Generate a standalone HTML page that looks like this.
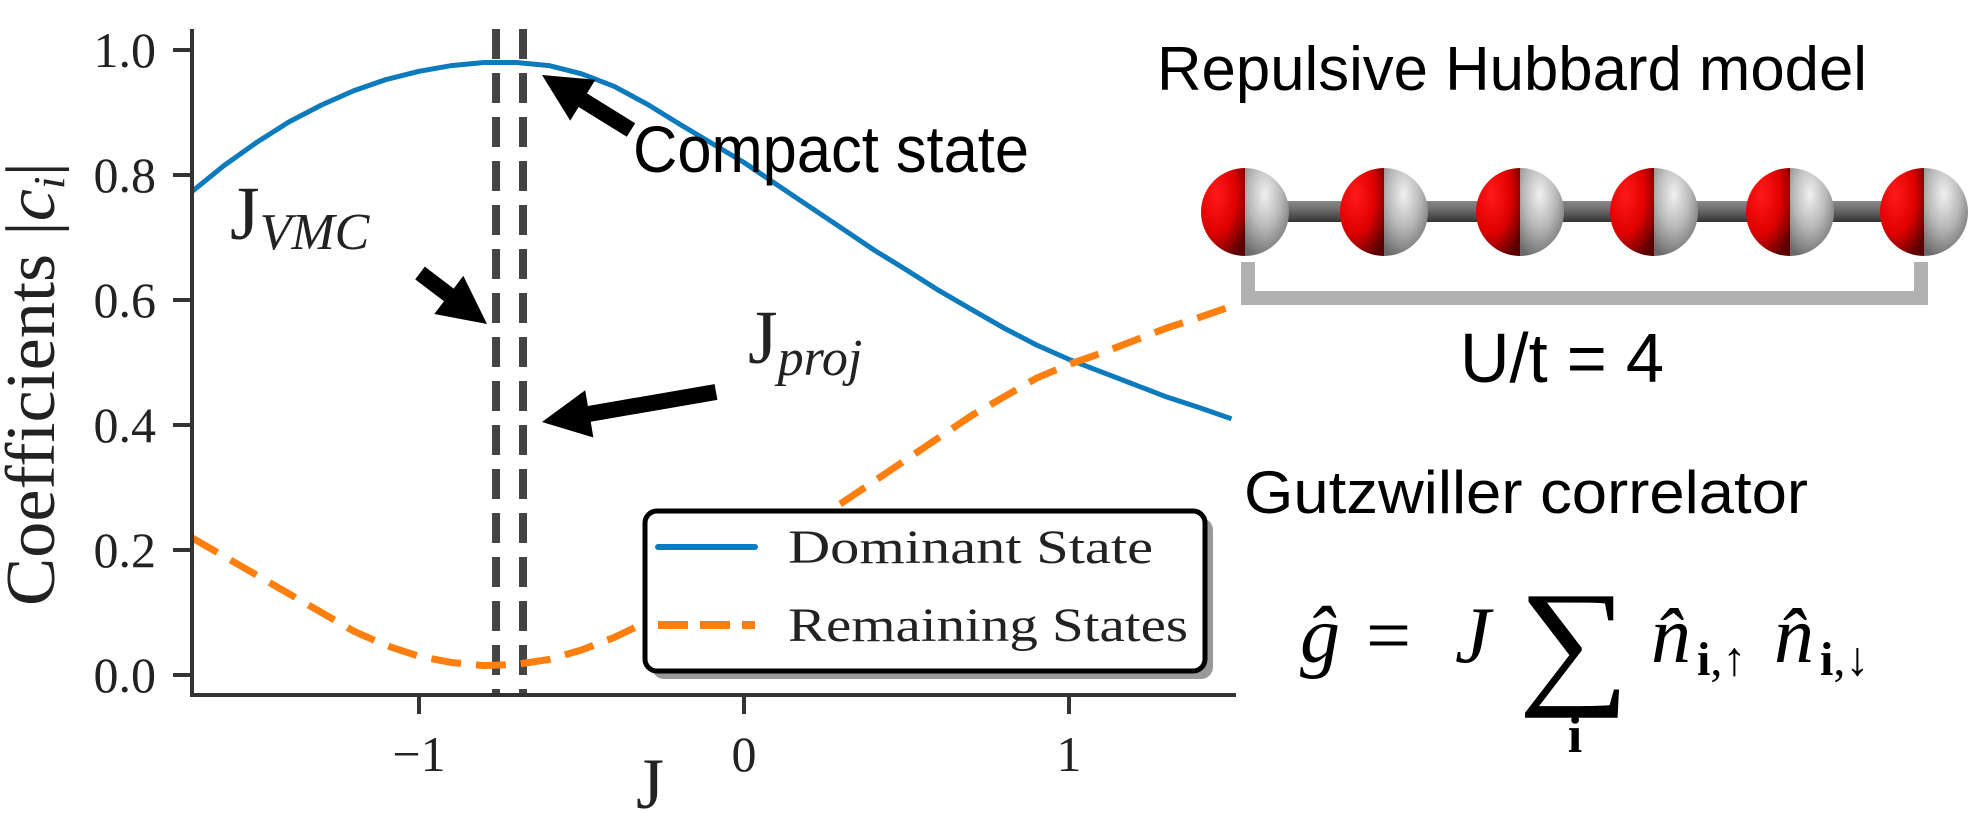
<!DOCTYPE html>
<html><head><meta charset="utf-8">
<style>
html,body{margin:0;padding:0;background:#fff;}
svg{display:block;}
.serif{font-family:"Liberation Serif","DejaVu Serif",serif;}
.sans{font-family:"Liberation Sans","DejaVu Sans",sans-serif;}
</style></head>
<body>
<svg id="chart" width="1982" height="830" viewBox="0 0 1982 830" xmlns="http://www.w3.org/2000/svg">
<defs>
  <radialGradient id="redG" cx="0.35" cy="0.3" r="0.8">
    <stop offset="0" stop-color="#ff1a1a"/><stop offset="0.55" stop-color="#e00000"/><stop offset="1" stop-color="#5a0000"/>
  </radialGradient>
  <radialGradient id="grayG" cx="0.45" cy="0.3" r="0.75">
    <stop offset="0" stop-color="#f0f0f0"/><stop offset="0.5" stop-color="#b8b8b8"/><stop offset="1" stop-color="#6a6a6a"/>
  </radialGradient>
  <linearGradient id="rodG" x1="0" y1="0" x2="0" y2="1">
    <stop offset="0" stop-color="#8a8a8a"/><stop offset="0.4" stop-color="#6e6e6e"/><stop offset="1" stop-color="#333"/>
  </linearGradient>
</defs>
<g id="plot"></g>
<g id="annot"></g>
<g id="legend"></g>
<g id="chain"></g>
</svg>
<script>
const jValues = [-1.7,-1.6,-1.5,-1.4,-1.3,-1.2,-1.1,-1.0,-0.9,-0.8,-0.7,-0.6,-0.5,-0.4,-0.3,-0.2,-0.1,0,0.1,0.2,0.3,0.4,0.5,0.6,0.7,0.8,0.9,1.0,1.1,1.2,1.3,1.4,1.5];
const dominantValues = [0.773,0.815,0.852,0.885,0.912,0.935,0.953,0.966,0.975,0.980,0.980,0.975,0.962,0.942,0.914,0.882,0.851,0.820,0.785,0.750,0.715,0.680,0.648,0.615,0.585,0.555,0.528,0.505,0.485,0.465,0.445,0.428,0.410];
const remainingValues = [0.220,0.190,0.160,0.130,0.100,0.070,0.047,0.030,0.020,0.015,0.017,0.025,0.040,0.060,0.085,0.115,0.150,0.185,0.215,0.245,0.275,0.310,0.345,0.380,0.415,0.445,0.475,0.497,0.515,0.535,0.555,0.572,0.590];
const xTicks = [-1,0,1];
const xTickLabels = ["\u22121","0","1"];
const yTicks = [0,0.2,0.4,0.6,0.8,1.0];
const yTickLabels = ["0.0","0.2","0.4","0.6","0.8","1.0"];
const vLines = [-0.763,-0.68];
const vLineNames = ['j-vmc-line','j-proj-line'];

const NS='http://www.w3.org/2000/svg';
const xS = j => 744 + 325*j;
const yS = v => 675 - 625*v;
function mk(tag, attrs, parent, text){
  const e=document.createElementNS(NS,tag);
  for(const k in attrs) e.setAttribute(k,attrs[k]);
  if(text!==undefined) e.textContent=text;
  parent.appendChild(e); return e;
}
const plot=document.getElementById('plot');
// vertical dashed lines
vLines.forEach((v,i)=>{
  const l=mk('line',{x1:xS(v),x2:xS(v),y1:29,y2:695,stroke:'#444','stroke-width':8,'stroke-dasharray':'30,14'},plot);
  
  
});
// curves
function pathFrom(vals){return vals.map((v,i)=>(i?'L':'M')+xS(jValues[i]).toFixed(1)+','+yS(v).toFixed(1)).join(' ');}
const blue=mk('path',{d:pathFrom(dominantValues),fill:'none',stroke:'#0C7BBD','stroke-width':5,'stroke-linejoin':'round'},plot);


const orange=mk('path',{d:pathFrom(remainingValues),fill:'none',stroke:'#FF7F0E','stroke-width':7,'stroke-dasharray':'30,15'},plot);


// axes
const ya=mk('line',{x1:192,x2:192,y1:29,y2:696,stroke:'#333','stroke-width':4},plot);


const xa=mk('line',{x1:190,x2:1236,y1:695,y2:695,stroke:'#333','stroke-width':4},plot);


yTicks.forEach((t,i)=>{
  const tk=mk('line',{x1:173,x2:192,y1:yS(t),y2:yS(t),stroke:'#333','stroke-width':4},plot);
  
  
  const lb=mk('text',{x:156,y:yS(t)+17,'text-anchor':'end','font-size':50,fill:'#222',class:'serif'},plot,yTickLabels[i]);
  
  
});
xTicks.forEach((t,i)=>{
  const tk=mk('line',{x1:xS(t),x2:xS(t),y1:695,y2:714,stroke:'#333','stroke-width':4},plot);
  
  
  const lb=mk('text',{x:xS(t),y:771,'text-anchor':'middle','font-size':50,fill:'#222',class:'serif'},plot,xTickLabels[i]);
  
  
});
const xt=mk('text',{x:650,y:808,'text-anchor':'middle','font-size':72,fill:'#222',class:'serif'},plot,'J');


const yt=mk('text',{transform:'translate(54,384) rotate(-90)','text-anchor':'middle','font-size':70,fill:'#222',class:'serif',textLength:444,lengthAdjust:'spacingAndGlyphs'},plot);


yt.innerHTML='Coefficients |<tspan font-style="italic">c</tspan><tspan font-style="italic" font-size="44" dy="10">i</tspan><tspan dy="-10">|</tspan>';

// annotations
const an=document.getElementById('annot');
function arrow(x1,y1,x2,y2,name){
  const dx=x2-x1, dy=y2-y1, L=Math.hypot(dx,dy), ux=dx/L, uy=dy/L, px=-uy, py=ux;
  const hl=48, hw=24, sw=8;
  const bx=x2-ux*hl, by=y2-uy*hl;
  const pts=[[x1+px*sw,y1+py*sw],[bx+px*sw,by+py*sw],[bx+px*hw,by+py*hw],[x2,y2],[bx-px*hw,by-py*hw],[bx-px*sw,by-py*sw],[x1-px*sw,y1-py*sw]];
  const p=mk('polygon',{points:pts.map(q=>q[0].toFixed(1)+','+q[1].toFixed(1)).join(' '),fill:'#000'},an);
  
  
}
arrow(420,273,487,324,'j-vmc-arrow');
arrow(716,392,542,422,'j-proj-arrow');
arrow(631,130,542,75,'compact-state-arrow');
const t1=mk('text',{x:230,y:239,'font-size':76,fill:'#222',class:'serif'},an);


t1.innerHTML='J<tspan font-style="italic" font-size="52" dy="10">VMC</tspan>';
const t2=mk('text',{x:748,y:363,'font-size':76,fill:'#222',class:'serif'},an);


t2.innerHTML='J<tspan font-style="italic" font-size="52" dy="12">proj</tspan>';
const t3=mk('text',{x:633,y:172,'font-size':66,fill:'#000',class:'sans',textLength:396,lengthAdjust:'spacingAndGlyphs'},an,'Compact state');



// legend
const lg=document.getElementById('legend');
const sh=mk('rect',{x:652,y:518,width:561,height:161,rx:12,fill:'#999'},lg);


const bx=mk('rect',{x:645,y:511,width:560,height:160,rx:12,fill:'#fff',stroke:'#000','stroke-width':5},lg);


const l1=mk('line',{x1:658,x2:755,y1:547,y2:547,stroke:'#0C7BBD','stroke-width':6,'stroke-linecap':'round'},lg);


const l2=mk('line',{x1:658,x2:755,y1:625,y2:625,stroke:'#FF7F0E','stroke-width':8,'stroke-dasharray':'30,12'},lg);


const lt1=mk('text',{x:788,y:563,'font-size':48,fill:'#222',class:'serif',textLength:365,lengthAdjust:'spacingAndGlyphs'},lg,'Dominant State');


const lt2=mk('text',{x:788,y:641,'font-size':48,fill:'#222',class:'serif',textLength:400,lengthAdjust:'spacingAndGlyphs'},lg,'Remaining States');



// right panel
const ch=document.getElementById('chain');
const title=mk('text',{x:1157,y:90,'font-size':62,fill:'#000',class:'sans',textLength:710,lengthAdjust:'spacingAndGlyphs'},ch,'Repulsive Hubbard model');


const rod=mk('rect',{x:1245,y:201,width:680,height:21,fill:'url(#rodG)'},ch);


[1245,1384,1520,1654,1790,1924].forEach(cx=>{
  const g=mk('g',{},ch);
  
  
  mk('path',{d:`M${cx},168 A44,44 0 0 0 ${cx},256 Z`,fill:'url(#redG)'},g);
  mk('path',{d:`M${cx},168 A44,44 0 0 1 ${cx},256 Z`,fill:'url(#grayG)'},g);
});
const br=mk('path',{d:'M1248,262 L1248,298 L1921,298 L1921,262',fill:'none',stroke:'#b0b0b0','stroke-width':14},ch);


const ut=mk('text',{x:1562,y:382,'font-size':70,fill:'#000',class:'sans','text-anchor':'middle',textLength:204,lengthAdjust:'spacingAndGlyphs'},ch,'U/t = 4');


const gz=mk('text',{x:1244,y:513,'font-size':60,fill:'#000',class:'sans',textLength:564,lengthAdjust:'spacingAndGlyphs'},ch,'Gutzwiller correlator');


const fm=mk('g',{class:'serif',fill:'#000'},ch);


mk('text',{x:1300,y:662,'font-size':80,'font-style':'italic'},fm,'ĝ');
mk('text',{x:1366,y:662,'font-size':80},fm,'=');
mk('text',{x:1455,y:662,'font-size':80,'font-style':'italic'},fm,'J');
mk('text',{x:1518,y:688,'font-size':140,textLength:112,lengthAdjust:'spacingAndGlyphs'},fm,'∑');
mk('text',{x:1575,y:752,'font-size':52,'font-weight':'bold','text-anchor':'middle'},fm,'i');
mk('text',{x:1651,y:662,'font-size':80,'font-style':'italic'},fm,'n̂');
mk('text',{x:1697,y:675,'font-size':48},fm).innerHTML='<tspan font-weight="bold">i</tspan>,↑';
mk('text',{x:1774,y:662,'font-size':80,'font-style':'italic'},fm,'n̂');
mk('text',{x:1820,y:675,'font-size':48},fm).innerHTML='<tspan font-weight="bold">i</tspan>,↓';
</script>
</body></html>
